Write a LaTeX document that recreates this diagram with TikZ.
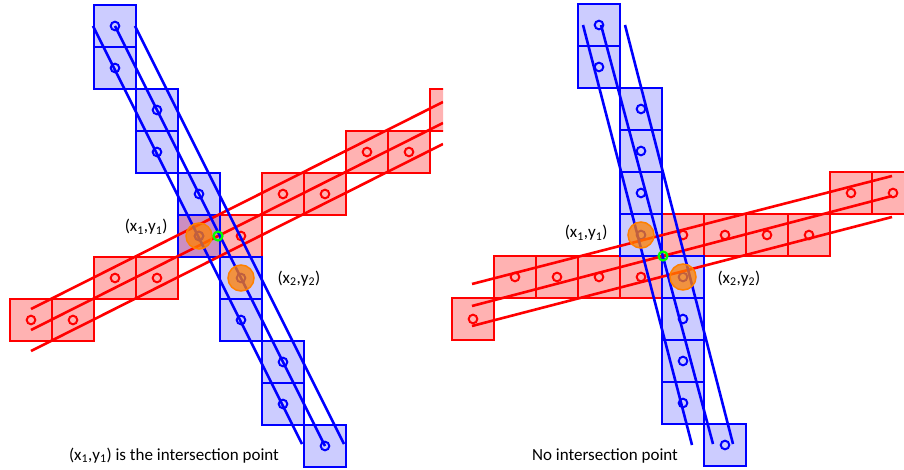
\documentclass[tikz,border=0pt]{standalone}
\usepackage{fontspec}
\setmainfont{Carlito}

\begin{document}
\begin{tikzpicture}[x=1pt, y=-1pt,
        bcell/.style={draw=blue, fill=blue, fill opacity=0.2, line width=1.7pt, minimum size=42pt, inner sep=0pt,
            path picture={\draw[blue, line width=2pt] (path picture bounding box.center) circle (4.3pt);}},
        rcell/.style={draw=red, fill=red, fill opacity=0.3, line width=1.7pt, minimum size=42pt, inner sep=0pt,
            path picture={\draw[red, line width=2pt] (path picture bounding box.center) circle (4.3pt);}},
        bline/.style={blue, line width=2.6pt},
        rline/.style={red, line width=2.6pt},
        hit/.style={circle, draw=orange, fill=orange, fill opacity=0.75, line width=1.5pt, minimum size=26pt, inner sep=0pt},
        cross/.style={circle, draw=green, line width=2.2pt, minimum size=9pt, inner sep=0pt},
        lbl/.style={font=\fontsize{17}{20}\selectfont}
    ]
    \useasboundingbox (0,0) rectangle (904,470);

    % Left: lines cross
    \begin{scope}
        \clip (0,0) rectangle (443,470);
        % red pixels
        \node[rcell] (lr1) at (31,320) {};
        \node[rcell] (lr2) at (73,320) {};
        \node[rcell] (lr3) at (115,278) {};
        \node[rcell] (lr4) at (157,278) {};
        \node[rcell] (lr5) at (199,236) {};
        \node[rcell] (lr6) at (241,236) {};
        \node[rcell] (lr7) at (283,194) {};
        \node[rcell] (lr8) at (325,194) {};
        \node[rcell] (lr9) at (367,152) {};
        \node[rcell] (lr10) at (409,152) {};
        \node[rcell] (lr11) at (451,110) {};
        % blue pixels
        \node[bcell] (lb1) at (115,26) {};
        \node[bcell] (lb2) at (115,68) {};
        \node[bcell] (lb3) at (157,110) {};
        \node[bcell] (lb4) at (157,152) {};
        \node[bcell] (lb5) at (199,194) {};
        \node[bcell] (lb6) at (199,236) {};
        \node[bcell] (lb7) at (241,278) {};
        \node[bcell] (lb8) at (241,320) {};
        \node[bcell] (lb9) at (283,362) {};
        \node[bcell] (lb10) at (283,404) {};
        \node[bcell] (lb11) at (325,446) {};
        % red line and its edges
        \coordinate (lrt0) at (31,309);  \coordinate (lrt1) at (443,102);
        \coordinate (lrm0) at (31,330);  \coordinate (lrm1) at (443,123);
        \coordinate (lrb0) at (31,351);  \coordinate (lrb1) at (443,144);
        \draw[rline] (lrt0) -- (lrt1);
        \draw[rline] (lrm0) -- (lrm1);
        \draw[rline] (lrb0) -- (lrb1);
        % blue line and its edges
        \coordinate (lbl0) at (93,26);   \coordinate (lbl1) at (302,444);
        \coordinate (lbr0) at (135,26);  \coordinate (lbr1) at (344,444);
        \draw[bline] (lbl0) -- (lbl1);
        \draw[bline] (lb1.center) -- (lb11.center);
        \draw[bline] (lbr0) -- (lbr1);
    \end{scope}
    \node[hit] (lh1) at (lb6) {};
    \node[hit] (lh2) at (lb7) {};
    \node[cross] (lx) at (218,236) {};
    \node[lbl, anchor=base east] (lp1) at (171,232) {(x\textsubscript{1},y\textsubscript{1})};
    \node[lbl, anchor=base west] (lp2) at (274,283) {(x\textsubscript{2},y\textsubscript{2})};
    \node[lbl, anchor=base] (lcap) at (174,460) {(x\textsubscript{1},y\textsubscript{1}) is the intersection point};

    % Right: no crossing
    % red pixels
    \node[rcell] (rr1) at (473,319) {};
    \node[rcell] (rr2) at (515,277) {};
    \node[rcell] (rr3) at (557,277) {};
    \node[rcell] (rr4) at (599,277) {};
    \node[rcell] (rr5) at (641,277) {};
    \node[rcell] (rr6) at (683,235) {};
    \node[rcell] (rr7) at (725,235) {};
    \node[rcell] (rr8) at (767,235) {};
    \node[rcell] (rr9) at (809,235) {};
    \node[rcell] (rr10) at (851,193) {};
    \node[rcell] (rr11) at (893,193) {};
    % blue pixels
    \node[bcell] (rb1) at (599,25) {};
    \node[bcell] (rb2) at (599,67) {};
    \node[bcell] (rb3) at (641,109) {};
    \node[bcell] (rb4) at (641,151) {};
    \node[bcell] (rb5) at (641,193) {};
    \node[bcell] (rb6) at (641,235) {};
    \node[bcell] (rb7) at (683,277) {};
    \node[bcell] (rb8) at (683,319) {};
    \node[bcell] (rb9) at (683,361) {};
    \node[bcell] (rb10) at (683,403) {};
    \node[bcell] (rb11) at (725,445) {};
    % red line and its edges
    \coordinate (rrt0) at (472,284);  \coordinate (rrt1) at (892,176);
    \coordinate (rrm0) at (472,306);  \coordinate (rrm1) at (892,196);
    \coordinate (rrb0) at (472,326);  \coordinate (rrb1) at (892,217);
    \draw[rline] (rrt0) -- (rrt1);
    \draw[rline] (rrm0) -- (rrm1);
    \draw[rline] (rrb0) -- (rrb1);
    % blue line and its edges
    \coordinate (rbl0) at (583,25);   \coordinate (rbl1) at (692,445);
    \coordinate (rbm0) at (601,25);   \coordinate (rbm1) at (713,444);
    \coordinate (rbr0) at (625,25);   \coordinate (rbr1) at (733,444);
    \draw[bline] (rbl0) -- (rbl1);
    \draw[bline] (rbm0) -- (rbm1);
    \draw[bline] (rbr0) -- (rbr1);
    \node[hit] (rh1) at (rb6) {};
    \node[hit] (rh2) at (rb7) {};
    \node[cross] (rx) at (663,256) {};
    \node[lbl, anchor=base east] (rp1) at (611,238) {(x\textsubscript{1},y\textsubscript{1})};
    \node[lbl, anchor=base west] (rp2) at (714,283) {(x\textsubscript{2},y\textsubscript{2})};
    \node[lbl, anchor=base] (rcap) at (605,460) {No intersection point};
\end{tikzpicture}
\end{document}
